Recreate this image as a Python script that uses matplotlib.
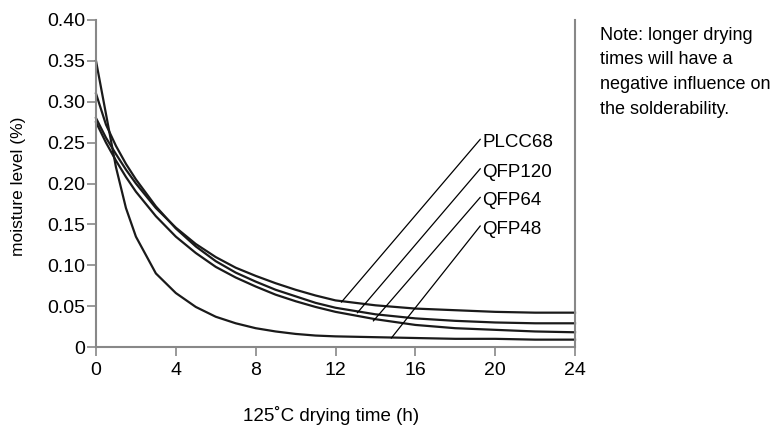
import matplotlib
matplotlib.use("Agg")
import matplotlib.pyplot as plt

plt.rcParams['font.family'] = ['Liberation Sans', 'DejaVu Sans']

# drying time (h)
hours = [0, 0.5, 1, 1.5, 2, 3, 4, 5, 6, 7, 8, 9, 10, 11, 12, 14, 16, 18, 20, 22, 24]

plcc68 = [0.280, 0.256, 0.236, 0.217, 0.200, 0.170, 0.146, 0.126, 0.110, 0.097, 0.087,
          0.078, 0.070, 0.063, 0.057, 0.051, 0.047, 0.045, 0.043, 0.042, 0.042]
qfp120 = [0.310, 0.272, 0.246, 0.224, 0.205, 0.172, 0.145, 0.123, 0.105, 0.091, 0.080,
          0.070, 0.062, 0.054, 0.048, 0.040, 0.035, 0.032, 0.030, 0.029, 0.029]
qfp64 = [0.275, 0.250, 0.228, 0.208, 0.190, 0.160, 0.135, 0.115, 0.098, 0.085, 0.074,
         0.064, 0.056, 0.049, 0.043, 0.034, 0.027, 0.023, 0.021, 0.019, 0.018]
qfp48 = [0.350, 0.285, 0.220, 0.170, 0.135, 0.090, 0.066, 0.049, 0.037, 0.029, 0.023,
         0.019, 0.016, 0.014, 0.013, 0.012, 0.011, 0.010, 0.010, 0.009, 0.009]

series = [plcc68, qfp120, qfp64, qfp48]
names = ["PLCC68", "QFP120", "QFP64", "QFP48"]

# where the leader lines touch the curves, and label heights
leader_t = [12.3, 13.1, 13.9, 14.8]
leader_v = [0.055, 0.042, 0.032, 0.011]
label_v = [0.250, 0.214, 0.179, 0.144]

xticks = [0, 4, 8, 12, 16, 20, 24]
yticks = [0, 0.05, 0.10, 0.15, 0.20, 0.25, 0.30, 0.35, 0.40]
ylabels = ["0", "0.05", "0.10", "0.15", "0.20", "0.25", "0.30", "0.35", "0.40"]

fig = plt.figure(figsize=(7.76, 4.25), dpi=100)
ax = fig.add_axes([96 / 776, 1 - 347 / 425, 479 / 776, 327 / 425])

for s in series:
    ax.plot(hours, s, color="#1a1a1a", lw=1.6, clip_on=False)

for n, t, v, lv in zip(names, leader_t, leader_v, label_v):
    ax.plot([t, 19.25], [v, lv + 0.004], color="black", lw=0.9, clip_on=False)
    ax.text(19.35, lv, n, fontsize=13.5, ha="left", va="center")

ax.set_xlim(0, 24)
ax.set_ylim(0, 0.40)
ax.set_xticks(xticks)
ax.set_yticks(yticks)
ax.set_yticklabels(ylabels)
ax.tick_params(axis="both", labelsize=14, length=6.5, width=1.2, color="#888888", direction="out")
ax.tick_params(axis="x", pad=4)
ax.tick_params(axis="y", pad=1.5)

ax.spines["top"].set_visible(False)
for side in ["left", "bottom", "right"]:
    ax.spines[side].set_color("#888888")
    ax.spines[side].set_linewidth(1.5)

ax.set_ylabel("moisture level (%)", fontsize=12.5)
ax.yaxis.set_label_coords(-0.146, 0.49)
ax.set_xlabel("125˚C drying time (h)", fontsize=13.5, va="center")
ax.xaxis.set_label_coords(0.49, -0.208)

fig.text(600 / 776, 1 - 33 / 425,
         "Note: longer drying\ntimes will have a\nnegative influence on\nthe solderability.",
         fontsize=13, ha="left", va="center", linespacing=1.6)
fig.texts[-1].set_va("baseline")
fig.texts[-1].set_y(1 - 114 / 425)

fig.savefig("out.png", dpi=100)
